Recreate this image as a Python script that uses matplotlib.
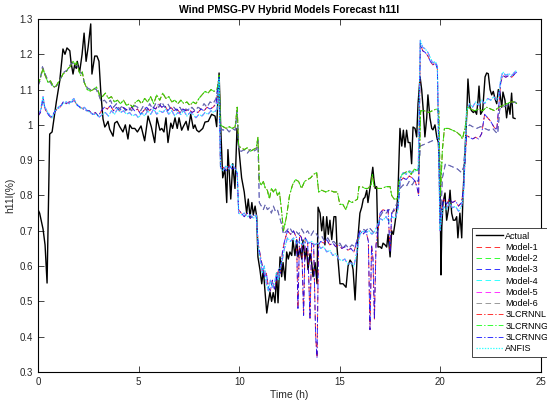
import matplotlib
matplotlib.use("Agg")
import matplotlib.pyplot as plt

plt.rcParams['font.family'] = ['Liberation Sans', 'DejaVu Sans']
plt.rcParams['lines.scale_dashes'] = False

# measured actual h11l (time in h, value in %)
actual = [(0.00, 0.76), (0.08, 0.75), (0.25, 0.705), (0.35, 0.66), (0.45, 0.552), (0.58, 0.974),
          (0.70, 0.98), (0.91, 1.065), (1.08, 1.125), (1.24, 1.215), (1.34, 1.20), (1.44, 1.218),
          (1.58, 1.21), (1.64, 1.178), (1.74, 1.144), (1.82, 1.17), (1.90, 1.16), (1.95, 1.18),
          (2.07, 1.15), (2.19, 1.20), (2.29, 1.26), (2.39, 1.18), (2.49, 1.22), (2.62, 1.286),
          (2.68, 1.144), (2.82, 1.195), (2.93, 1.195), (3.03, 1.18), (3.12, 1.093), (3.23, 1.017),
          (3.32, 0.994), (3.39, 1.0), (3.48, 1.01), (3.56, 0.988), (3.73, 0.968), (3.81, 1.005),
          (3.93, 1.01), (4.06, 0.995), (4.22, 0.98), (4.34, 1.0), (4.47, 0.96), (4.56, 1.0),
          (4.67, 0.99), (4.81, 0.99), (4.94, 0.98), (5.12, 0.997), (5.30, 0.955), (5.47, 1.025),
          (5.63, 0.995), (5.80, 0.95), (5.91, 1.02), (6.06, 0.985), (6.15, 0.99), (6.26, 0.98),
          (6.36, 1.02), (6.46, 0.95), (6.60, 1.005), (6.69, 0.99), (6.81, 1.02), (6.92, 0.99),
          (7.01, 1.02), (7.14, 0.985), (7.22, 0.995), (7.36, 1.01), (7.46, 0.985), (7.59, 1.03),
          (7.72, 0.99), (7.80, 1.0), (7.89, 0.985), (8.00, 0.98), (8.19, 0.99), (8.30, 1.008),
          (8.46, 1.01), (8.63, 1.03), (8.80, 1.025), (8.88, 0.995), (9.00, 1.147), (9.08, 0.995),
          (9.18, 0.85), (9.29, 0.875), (9.38, 0.78), (9.44, 0.93), (9.58, 0.79), (9.68, 0.89),
          (9.79, 0.82), (9.89, 0.99), (9.99, 0.93), (10.12, 0.85), (10.25, 0.81), (10.37, 0.75),
          (10.45, 0.79), (10.54, 0.74), (10.63, 0.78), (10.70, 0.745), (10.79, 0.77), (10.87, 0.74),
          (10.93, 0.626), (11.03, 0.59), (11.12, 0.55), (11.20, 0.59), (11.28, 0.53), (11.37, 0.467),
          (11.45, 0.50), (11.53, 0.527), (11.61, 0.50), (11.69, 0.525), (11.78, 0.496), (11.86, 0.58),
          (11.93, 0.496), (12.03, 0.626), (12.11, 0.57), (12.18, 0.61), (12.28, 0.56), (12.36, 0.64),
          (12.44, 0.62), (12.52, 0.64), (12.61, 0.63), (12.67, 0.674), (12.77, 0.63), (12.86, 0.674),
          (12.92, 0.626), (13.02, 0.65), (13.11, 0.62), (13.17, 0.674), (13.27, 0.62), (13.35, 0.65),
          (13.42, 0.59), (13.52, 0.635), (13.60, 0.61), (13.67, 0.57), (13.77, 0.61), (13.87, 0.55),
          (13.92, 0.767), (14.02, 0.75), (14.10, 0.70), (14.18, 0.74), (14.26, 0.66), (14.35, 0.74),
          (14.43, 0.69), (14.51, 0.73), (14.60, 0.675), (14.71, 0.74), (14.80, 0.74), (14.86, 0.654),
          (15.01, 0.55), (15.16, 0.55), (15.31, 0.54), (15.41, 0.60), (15.51, 0.617), (15.59, 0.61),
          (15.66, 0.59), (15.76, 0.504), (15.84, 0.60), (15.90, 0.68), (16.00, 0.75), (16.09, 0.767),
          (16.17, 0.79), (16.25, 0.795), (16.34, 0.815), (16.40, 0.78), (16.50, 0.82), (16.64, 0.88),
          (16.70, 0.844), (16.76, 0.82), (16.83, 0.825), (16.90, 0.654), (17.00, 0.655), (17.08, 0.65),
          (17.15, 0.665), (17.25, 0.66), (17.33, 0.654), (17.40, 0.69), (17.50, 0.626), (17.58, 0.70),
          (17.66, 0.69), (17.74, 0.72), (17.83, 0.76), (17.89, 0.807), (17.99, 0.99), (18.08, 0.94),
          (18.16, 0.985), (18.24, 0.937), (18.32, 0.985), (18.40, 0.95), (18.49, 0.95), (18.57, 0.89),
          (18.64, 0.994), (18.74, 0.99), (18.82, 0.966), (18.89, 1.06), (18.99, 1.136), (19.07, 1.10),
          (19.15, 1.04), (19.23, 0.966), (19.32, 1.02), (19.38, 1.085), (19.48, 1.02), (19.57, 0.99),
          (19.63, 0.986), (19.73, 1.0), (19.82, 0.966), (19.90, 0.95), (19.98, 0.844), (20.03, 0.575),
          (20.07, 0.71), (20.13, 0.78), (20.23, 0.807), (20.31, 0.73), (20.40, 0.76), (20.48, 0.815),
          (20.56, 0.75), (20.64, 0.73), (20.73, 0.73), (20.81, 0.74), (20.87, 0.68), (20.97, 0.75),
          (21.06, 0.68), (21.12, 0.795), (21.22, 0.92), (21.31, 1.03), (21.37, 1.13), (21.47, 1.05),
          (21.55, 1.04), (21.64, 1.035), (21.72, 1.04), (21.80, 1.03), (21.87, 1.07), (21.92, 1.11),
          (22.00, 1.03), (22.10, 1.04), (22.22, 1.136), (22.30, 1.147), (22.38, 1.145), (22.47, 1.10),
          (22.55, 1.085), (22.63, 1.095), (22.71, 1.075), (22.80, 1.06), (22.88, 1.10), (22.96, 1.09),
          (23.05, 1.05), (23.11, 1.093), (23.21, 1.07), (23.29, 1.02), (23.38, 1.06), (23.46, 1.03),
          (23.54, 1.09), (23.61, 1.02), (23.71, 1.018)]

# forecast bands (several models follow nearly the same path)
hi = [(0.00, 1.115), (0.10, 1.13), (0.25, 1.16), (0.35, 1.14), (0.50, 1.12), (0.62, 1.125),
      (0.75, 1.11), (0.85, 1.105), (1.00, 1.12), (1.12, 1.13), (1.25, 1.145), (1.40, 1.15),
      (1.50, 1.16), (1.60, 1.165), (1.75, 1.18), (1.85, 1.17), (1.92, 1.178), (2.05, 1.15),
      (2.12, 1.14), (2.20, 1.15), (2.30, 1.12), (2.45, 1.10), (2.60, 1.096), (2.75, 1.10),
      (2.90, 1.107), (3.00, 1.095), (3.10, 1.075), (3.20, 1.08), (3.35, 1.09), (3.50, 1.075),
      (3.65, 1.08), (3.80, 1.065), (3.95, 1.07), (4.10, 1.06), (4.25, 1.07), (4.40, 1.055),
      (4.55, 1.06), (4.70, 1.05), (4.85, 1.065), (5.00, 1.07), (5.15, 1.06), (5.30, 1.075),
      (5.45, 1.065), (5.60, 1.08), (5.75, 1.06), (5.90, 1.085), (6.05, 1.07), (6.20, 1.09),
      (6.35, 1.075), (6.50, 1.08), (6.65, 1.065), (6.80, 1.07), (6.95, 1.06), (7.10, 1.07),
      (7.25, 1.06), (7.40, 1.065), (7.55, 1.055), (7.70, 1.065), (7.85, 1.06), (8.00, 1.075),
      (8.15, 1.085), (8.30, 1.095), (8.45, 1.09), (8.60, 1.10), (8.75, 1.095), (8.90, 1.10),
      (9.00, 1.14), (9.07, 1.0), (9.20, 0.995), (9.35, 0.99), (9.50, 0.995), (9.65, 0.99),
      (9.80, 0.995), (9.90, 1.05), (9.97, 0.94), (10.10, 0.935), (10.25, 0.93), (10.40, 0.935),
      (10.55, 0.925), (10.70, 0.93), (10.85, 0.935), (10.93, 0.965), (11.00, 0.84), (11.10, 0.83),
      (11.20, 0.84), (11.30, 0.82), (11.40, 0.815), (11.50, 0.79), (11.60, 0.82), (11.70, 0.81),
      (11.80, 0.82), (11.90, 0.80), (12.00, 0.81), (12.10, 0.76), (12.20, 0.70), (12.35, 0.74),
      (12.50, 0.80), (12.65, 0.83), (12.80, 0.845), (12.95, 0.84), (13.10, 0.82), (13.25, 0.84),
      (13.40, 0.845), (13.55, 0.85), (13.70, 0.86), (13.85, 0.865), (13.95, 0.81), (14.10, 0.815),
      (14.30, 0.81), (14.50, 0.815), (14.70, 0.81), (14.88, 0.81), (15.00, 0.775), (15.15, 0.775),
      (15.30, 0.76), (15.45, 0.785), (15.60, 0.78), (15.75, 0.785), (15.88, 0.79), (15.95, 0.825),
      (16.10, 0.825), (16.25, 0.82), (16.40, 0.82), (16.55, 0.83), (16.62, 0.86), (16.70, 0.825),
      (16.90, 0.82), (17.10, 0.82), (17.30, 0.825), (17.50, 0.825), (17.58, 0.80), (17.70, 0.79),
      (17.85, 0.79), (17.95, 0.84), (18.10, 0.86), (18.25, 0.865), (18.40, 0.87), (18.55, 0.86),
      (18.70, 0.875), (18.85, 0.87), (18.95, 0.88), (19.02, 1.04), (19.20, 1.04), (19.40, 1.035),
      (19.60, 1.04), (19.80, 1.045), (19.92, 1.04), (20.00, 0.80), (20.10, 0.93), (20.20, 0.99),
      (20.40, 0.99), (20.60, 0.985), (20.80, 0.98), (21.00, 0.97), (21.10, 0.96), (21.25, 1.00),
      (21.35, 1.05), (21.50, 1.045), (21.70, 1.04), (21.90, 1.045), (22.10, 1.04), (22.30, 1.05),
      (22.50, 1.045), (22.70, 1.04), (22.90, 1.05), (23.10, 1.055), (23.30, 1.06), (23.50, 1.065),
      (23.70, 1.065), (23.80, 1.06)]

mid = [(0.00, 1.11), (0.10, 1.125), (0.22, 1.165), (0.35, 1.145), (0.50, 1.125), (0.62, 1.12),
       (0.75, 1.105), (0.90, 1.11), (1.00, 1.115), (1.15, 1.135), (1.30, 1.15), (1.45, 1.155),
       (1.60, 1.17), (1.72, 1.175), (1.85, 1.165), (1.95, 1.17), (2.05, 1.15), (2.20, 1.145),
       (2.30, 1.12), (2.45, 1.105), (2.60, 1.10), (2.75, 1.105), (2.90, 1.10), (3.05, 1.08),
       (3.15, 1.065), (3.30, 1.07), (3.45, 1.06), (3.60, 1.07), (3.75, 1.05), (3.90, 1.06),
       (4.05, 1.045), (4.20, 1.055), (4.35, 1.04), (4.50, 1.05), (4.65, 1.04), (4.80, 1.055),
       (4.95, 1.05), (5.10, 1.04), (5.25, 1.055), (5.40, 1.04), (5.55, 1.06), (5.70, 1.045),
       (5.85, 1.06), (6.00, 1.05), (6.15, 1.065), (6.30, 1.05), (6.45, 1.06), (6.60, 1.045),
       (6.75, 1.05), (6.90, 1.04), (7.05, 1.05), (7.20, 1.035), (7.35, 1.045), (7.50, 1.04),
       (7.65, 1.05), (7.80, 1.04), (7.95, 1.05), (8.10, 1.045), (8.25, 1.06), (8.40, 1.05),
       (8.55, 1.065), (8.70, 1.06), (8.85, 1.075), (9.00, 1.13), (9.07, 0.99), (9.20, 0.985),
       (9.35, 0.99), (9.50, 0.98), (9.65, 0.99), (9.80, 0.985), (9.90, 1.04), (9.97, 0.93),
       (10.10, 0.925), (10.25, 0.93), (10.40, 0.92), (10.55, 0.93), (10.70, 0.925), (10.85, 0.93),
       (10.93, 0.955), (11.00, 0.78), (11.10, 0.77), (11.20, 0.76), (11.30, 0.775), (11.40, 0.76),
       (11.50, 0.765), (11.60, 0.75), (11.70, 0.77), (11.80, 0.755), (11.90, 0.76), (12.00, 0.74),
       (12.10, 0.72), (12.20, 0.69), (12.35, 0.70), (12.50, 0.71), (12.65, 0.695), (12.80, 0.70),
       (12.95, 0.69), (13.10, 0.705), (13.25, 0.69), (13.40, 0.70), (13.55, 0.685), (13.70, 0.70),
       (13.85, 0.69), (13.95, 0.68), (14.10, 0.685), (14.25, 0.67), (14.40, 0.68), (14.55, 0.665),
       (14.70, 0.67), (14.85, 0.66), (15.00, 0.665), (15.15, 0.65), (15.30, 0.66), (15.45, 0.65),
       (15.60, 0.66), (15.75, 0.655), (15.90, 0.68), (16.00, 0.70), (16.15, 0.705), (16.30, 0.70),
       (16.45, 0.71), (16.60, 0.70), (16.75, 0.69), (16.90, 0.70), (17.00, 0.74), (17.15, 0.755),
       (17.30, 0.75), (17.45, 0.76), (17.60, 0.75), (17.75, 0.77), (17.90, 0.78), (18.00, 0.82),
       (18.15, 0.83), (18.30, 0.825), (18.45, 0.84), (18.60, 0.83), (18.75, 0.845), (18.90, 0.84),
       (19.00, 0.94), (19.20, 0.945), (19.40, 0.95), (19.60, 0.955), (19.80, 0.96), (19.92, 0.965),
       (20.00, 0.72), (20.10, 0.85), (20.25, 0.89), (20.45, 0.885), (20.65, 0.88), (20.85, 0.875),
       (21.05, 0.865), (21.15, 0.88), (21.30, 0.99), (21.45, 1.0), (21.60, 0.995), (21.80, 0.99),
       (22.00, 0.995), (22.20, 0.99), (22.40, 0.985), (22.60, 0.99), (22.75, 0.98), (22.85, 0.975),
       (22.95, 1.045), (23.10, 1.05), (23.30, 1.055), (23.50, 1.06), (23.70, 1.065), (23.80, 1.06)]

top = [(0.00, 1.03), (0.12, 1.04), (0.25, 1.08), (0.33, 1.05), (0.45, 1.04), (0.60, 1.025),
       (0.70, 1.02), (0.85, 1.04), (1.00, 1.05), (1.15, 1.055), (1.25, 1.06), (1.40, 1.065),
       (1.55, 1.06), (1.70, 1.07), (1.78, 1.075), (1.90, 1.06), (2.00, 1.055), (2.15, 1.045),
       (2.30, 1.05), (2.45, 1.04), (2.60, 1.035), (2.75, 1.03), (2.90, 1.03), (3.05, 1.022),
       (3.20, 1.03), (3.35, 1.035), (3.50, 1.025), (3.65, 1.04), (3.80, 1.03), (3.95, 1.045),
       (4.10, 1.035), (4.25, 1.04), (4.40, 1.03), (4.55, 1.035), (4.70, 1.025), (4.85, 1.03),
       (5.00, 1.02), (5.15, 1.035), (5.30, 1.025), (5.45, 1.04), (5.60, 1.03), (5.75, 1.045),
       (5.90, 1.03), (6.05, 1.04), (6.20, 1.035), (6.35, 1.045), (6.50, 1.03), (6.65, 1.04),
       (6.80, 1.025), (6.95, 1.035), (7.10, 1.03), (7.25, 1.04), (7.40, 1.025), (7.55, 1.035),
       (7.70, 1.03), (7.85, 1.02), (8.00, 1.03), (8.15, 1.025), (8.30, 1.035), (8.45, 1.03),
       (8.60, 1.04), (8.75, 1.035), (8.90, 1.045), (9.00, 1.13), (9.07, 0.88), (9.20, 0.87),
       (9.35, 0.885), (9.50, 0.875), (9.65, 0.89), (9.80, 0.875), (9.90, 0.87), (9.97, 0.75),
       (10.10, 0.745), (10.25, 0.75), (10.40, 0.74), (10.55, 0.745), (10.70, 0.735), (10.85, 0.745),
       (10.95, 0.65), (11.05, 0.62), (11.15, 0.58), (11.25, 0.60), (11.35, 0.55), (11.45, 0.53),
       (11.55, 0.56), (11.65, 0.54), (11.75, 0.55), (11.85, 0.58), (11.95, 0.56), (12.05, 0.60),
       (12.15, 0.62), (12.25, 0.65), (12.40, 0.68), (12.55, 0.67), (12.70, 0.68), (12.85, 0.665),
       (13.00, 0.67), (13.15, 0.66), (13.30, 0.675), (13.45, 0.665), (13.60, 0.67), (13.75, 0.66),
       (13.90, 0.665), (14.05, 0.65), (14.20, 0.655), (14.35, 0.64), (14.50, 0.645), (14.65, 0.63),
       (14.80, 0.635), (14.95, 0.62), (15.10, 0.615), (15.25, 0.62), (15.40, 0.605), (15.55, 0.61),
       (15.70, 0.60), (15.85, 0.64), (16.00, 0.69), (16.15, 0.70), (16.30, 0.695), (16.45, 0.70),
       (16.60, 0.69), (16.75, 0.70), (16.90, 0.72), (17.00, 0.735), (17.15, 0.73), (17.30, 0.74),
       (17.45, 0.725), (17.60, 0.74), (17.75, 0.735), (17.90, 0.76), (18.00, 0.85), (18.15, 0.865),
       (18.30, 0.86), (18.45, 0.87), (18.60, 0.865), (18.75, 0.87), (18.90, 0.875), (19.00, 1.24),
       (19.12, 1.22), (19.25, 1.215), (19.38, 1.205), (19.50, 1.19), (19.62, 1.175), (19.75, 1.18),
       (19.85, 1.165), (19.98, 0.70), (20.05, 0.74), (20.15, 0.77), (20.30, 0.76), (20.45, 0.78),
       (20.60, 0.765), (20.75, 0.77), (20.90, 0.755), (21.05, 0.77), (21.15, 0.80), (21.30, 1.04),
       (21.45, 1.06), (21.60, 1.05), (21.75, 1.065), (21.90, 1.055), (22.05, 1.07), (22.20, 1.06),
       (22.35, 1.075), (22.50, 1.07), (22.65, 1.08), (22.80, 1.07), (22.90, 1.08), (23.00, 1.13),
       (23.10, 1.15), (23.25, 1.14), (23.40, 1.145), (23.55, 1.14), (23.70, 1.15), (23.80, 1.155)]

low = [(0.00, 1.025), (0.12, 1.035), (0.25, 1.075), (0.35, 1.045), (0.50, 1.03), (0.65, 1.02),
       (0.80, 1.035), (0.95, 1.045), (1.10, 1.05), (1.25, 1.065), (1.40, 1.06), (1.55, 1.065),
       (1.70, 1.065), (1.80, 1.07), (1.95, 1.055), (2.10, 1.05), (2.25, 1.045), (2.40, 1.04),
       (2.55, 1.04), (2.70, 1.03), (2.85, 1.035), (3.00, 1.025), (3.15, 1.04), (3.30, 1.05),
       (3.45, 1.045), (3.60, 1.055), (3.75, 1.04), (3.90, 1.05), (4.05, 1.04), (4.20, 1.05),
       (4.35, 1.045), (4.50, 1.04), (4.65, 1.05), (4.80, 1.04), (4.95, 1.045), (5.10, 1.03),
       (5.25, 1.04), (5.40, 1.05), (5.55, 1.04), (5.70, 1.05), (5.85, 1.045), (6.00, 1.06),
       (6.15, 1.05), (6.30, 1.055), (6.45, 1.04), (6.60, 1.05), (6.75, 1.04), (6.90, 1.045),
       (7.05, 1.035), (7.20, 1.045), (7.35, 1.04), (7.50, 1.045), (7.65, 1.035), (7.80, 1.04),
       (7.95, 1.035), (8.10, 1.045), (8.25, 1.04), (8.40, 1.05), (8.55, 1.045), (8.70, 1.05),
       (8.85, 1.06), (9.00, 1.135), (9.07, 0.875), (9.20, 0.88), (9.35, 0.87), (9.50, 0.885),
       (9.65, 0.875), (9.80, 0.88), (9.90, 0.86), (9.97, 0.76), (10.10, 0.75), (10.25, 0.74),
       (10.40, 0.75), (10.55, 0.735), (10.70, 0.745), (10.85, 0.74), (10.95, 0.66), (11.05, 0.63),
       (11.15, 0.60), (11.25, 0.57), (11.35, 0.58), (11.45, 0.54), (11.55, 0.53), (11.65, 0.56),
       (11.75, 0.535), (11.85, 0.56), (11.95, 0.59), (12.05, 0.58), (12.15, 0.64), (12.25, 0.67),
       (12.40, 0.70), (12.55, 0.69), (12.70, 0.70), (12.85, 0.68), (12.92, 0.48), (13.00, 0.69),
       (13.10, 0.68), (13.20, 0.46), (13.28, 0.68), (13.40, 0.67), (13.52, 0.45), (13.60, 0.665),
       (13.70, 0.66), (13.80, 0.40), (13.87, 0.34), (13.94, 0.66), (14.05, 0.67), (14.20, 0.665),
       (14.35, 0.675), (14.50, 0.66), (14.65, 0.665), (14.80, 0.655), (14.95, 0.66), (15.10, 0.65),
       (15.25, 0.655), (15.40, 0.645), (15.55, 0.65), (15.70, 0.64), (15.85, 0.67), (16.00, 0.70),
       (16.15, 0.69), (16.30, 0.70), (16.42, 0.67), (16.50, 0.42), (16.58, 0.66), (16.65, 0.62),
       (16.72, 0.45), (16.80, 0.66), (16.90, 0.70), (17.00, 0.75), (17.15, 0.76), (17.30, 0.755),
       (17.40, 0.76), (17.50, 0.64), (17.58, 0.75), (17.75, 0.76), (17.90, 0.77), (18.00, 0.84),
       (18.15, 0.85), (18.30, 0.845), (18.45, 0.855), (18.60, 0.85), (18.75, 0.84), (18.85, 0.82),
       (18.92, 0.80), (19.00, 1.23), (19.12, 1.21), (19.25, 1.205), (19.38, 1.195), (19.50, 1.18),
       (19.62, 1.17), (19.75, 1.175), (19.85, 1.16), (19.98, 0.72), (20.05, 0.76), (20.15, 0.79),
       (20.30, 0.775), (20.45, 0.79), (20.60, 0.78), (20.75, 0.785), (20.90, 0.77), (21.05, 0.78),
       (21.15, 0.82), (21.30, 0.97), (21.45, 0.965), (21.60, 0.96), (21.75, 0.965), (21.90, 0.96),
       (22.05, 0.975), (22.20, 1.03), (22.35, 1.02), (22.50, 1.01), (22.65, 0.995), (22.80, 0.985),
       (22.90, 1.05), (23.00, 1.12), (23.10, 1.14), (23.25, 1.135), (23.40, 1.14), (23.55, 1.135),
       (23.70, 1.145), (23.80, 1.15)]

bands = {'hi': hi, 'mid': mid, 'top': top, 'low': low}

# model name, band it follows, colour, line style
models = [('Model-1', 'low', '#ff0000', '--'),
          ('Model-2', 'hi', '#00ff00', '--'),
          ('Model-3', 'mid', '#0000ff', '--'),
          ('Model-4', 'top', '#00ffff', '--'),
          ('Model-5', 'top', '#ff00ff', '--'),
          ('Model-6', 'mid', '#808080', '--'),
          ('3LCRNNL', 'hi', '#ff0000', '-.'),
          ('3LCRNNG', 'hi', '#00ff00', '-.'),
          ('3LCRNNGL', 'low', '#0000ff', '-.'),
          ('ANFIS', 'top', '#00ffff', ':')]

fig = plt.figure(figsize=(5.47, 4.03), dpi=100)
ax = fig.add_axes([0.0695, 0.0769, 0.9195, 0.876])

t, v = zip(*actual)
ax.plot(t, v, color='k', lw=1.0, label='Actual')

for name, band, col, ls in models:
    t, v = zip(*bands[band])
    if ls == '--':
        dash = (4, 2.5)
    elif ls == '-.':
        dash = (4, 1.5, 1, 1.5)
    else:
        dash = (1, 1)
    lw = 0.9 if ls == ':' else 0.7
    ax.plot(t, v, color=col, lw=lw, dashes=dash, label=name, alpha=0.8)

ax.set_xlim(0, 25)
ax.set_ylim(0.3, 1.3)
ax.set_xticks(range(0, 26, 5))
yt = [0.3, 0.4, 0.5, 0.6, 0.7, 0.8, 0.9, 1.0, 1.1, 1.2, 1.3]
ax.set_yticks(yt)
ax.set_yticklabels(['%g' % y for y in yt])
ax.tick_params(direction='in', top=True, right=True, labelsize=7, length=4,
               width=0.6, colors='#262626', labelcolor='#262626')
for s in ax.spines.values():
    s.set_linewidth(0.8)
ax.set_xlabel('Time (h)', fontsize=7.5, color='#262626', labelpad=2)
ax.set_ylabel('h11l(%)', fontsize=7.5, color='#262626', labelpad=3)
ax.set_title('Wind PMSG-PV Hybrid Models Forecast h11l', fontsize=7.5,
             fontweight='bold', pad=4)

leg = ax.legend(loc='upper left', bbox_to_anchor=(0.863, 0.408), borderaxespad=0,
                fontsize=6.5, handlelength=3.0, handletextpad=0.3, labelspacing=0.25,
                fancybox=False, framealpha=1, borderpad=0.4)
leg.get_frame().set_edgecolor('#262626')
leg.get_frame().set_linewidth(0.6)

fig.savefig('out.png', dpi=100)
